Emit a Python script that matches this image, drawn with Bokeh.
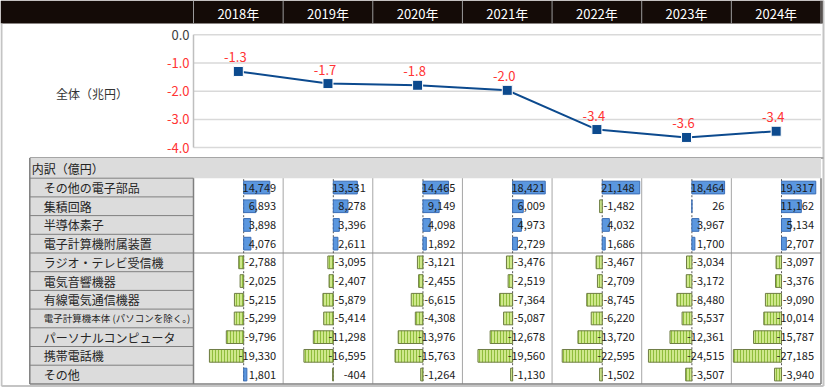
from bokeh.plotting import figure
from bokeh.models import Range1d, ColumnDataSource
from bokeh.core.properties import value
from bokeh.embed import file_html
from bokeh.resources import INLINE

# ---------------- data ----------------
years = ["2018年", "2019年", "2020年", "2021年", "2022年", "2023年", "2024年"]
totals = [-1.30, -1.73, -1.79, -1.97, -3.36, -3.64, -3.42]   # 兆円
total_ticks = [0.0, -1.0, -2.0, -3.0, -4.0]
total_tick_labels = ["0.0", "-1.0", "-2.0", "-3.0", "-4.0"]
total_label = "全体（兆円）"
table_title = "内訳（億円）"
items = ["その他の電子部品", "集積回路", "半導体素子", "電子計算機附属装置",
         "ラジオ・テレビ受信機", "電気音響機器", "有線電気通信機器",
         "電子計算機本体 (パソコンを除く。)", "パーソナルコンピュータ", "携帯電話機", "その他"]
v2018 = [14749, 6893, 3898, 4076, -2788, -2025, -5215, -5299, -9796, -19330, 1801]
v2019 = [13531, 8278, 3396, 2611, -3095, -2407, -5879, -5414, -11298, -16595, -404]
v2020 = [14465, 9149, 4098, 1892, -3121, -2455, -6615, -4308, -13976, -15763, -1264]
v2021 = [18421, 6009, 4973, 2729, -3476, -2519, -7364, -5087, -12678, -19560, -1130]
v2022 = [21148, -1482, 4032, 1686, -3467, -2709, -8745, -6220, -13720, -22595, -1502]
v2023 = [18464, 26, 3967, 1700, -3034, -3172, -8480, -5537, -12361, -24515, -3507]
v2024 = [19317, 11162, 5134, 2707, -3097, -3376, -9090, -10014, -15787, -27185, -3940]
series = [v2018, v2019, v2020, v2021, v2022, v2023, v2024]

# ---------------- layout constants (px) ----------------
FW, FH = 825, 387
COL0 = 193.0          # left edge of first year column
NCOL = len(years)
COLEND = 820.5
COLW = (COLEND - COL0) / NCOL
HEAD_H = 23.0
CHART_TOP = 34.3      # px of value 0.0
PPU = 28.2            # px per 1 兆円
TAB_TOP = 157.5
ROW0 = 177.7
ROWH = 18.7
NROW = len(items)
TAB_BOT = ROW0 + NROW * ROWH
LAB_L = 29.3
FRAME_R = 823.0
FRAME_B = 385.5
PAD = 2.0
FONT = value("Noto Sans CJK JP")

allv = [v for s in series for v in s]
vmin, vmax = min(allv), max(allv)
spx = (COLW - 2 * PAD) / (vmax - vmin)      # px per 億円
colw_val = COLW / spx
zero_val = PAD / spx - vmin

p = figure(width=FW, height=FH, x_range=Range1d(0, FW), y_range=Range1d(FH, 0),
           output_backend="svg", toolbar_location=None, min_border=0)
p.axis.visible = False
p.grid.visible = False
p.outline_line_color = None
p.background_fill_color = "white"
p.border_fill_color = "white"

p.extra_x_ranges = {
    "yr": Range1d(-COL0 / COLW - 0.5, (FW - COL0) / COLW - 0.5),
    "val": Range1d(-COL0 / spx, (FW - COL0) / spx),
}
p.extra_y_ranges = {
    "tot": Range1d(-(FH - CHART_TOP) / PPU, CHART_TOP / PPU),
    "row": Range1d((FH - ROW0) / ROWH - 0.5, -ROW0 / ROWH - 0.5),
}

# ---------------- header ----------------
p.quad(left=[0], right=[FRAME_R], top=[0], bottom=[HEAD_H],
       fill_color="#140b07", line_color=None)
hx = [COL0 + COLW * i for i in range(NCOL + 1)]
p.segment(x0=hx, x1=hx, y0=[0] * len(hx), y1=[HEAD_H] * len(hx), line_color="#9a9a9a", line_width=1)
p.text(x=list(range(NCOL)), y=[HEAD_H / 2 + 1] * NCOL, text=years, x_range_name="yr",
       text_color="white", text_font=FONT, text_font_size="13px",
       text_align="center", text_baseline="middle")

# ---------------- outer frame ----------------
p.segment(x0=[1, 1, FRAME_R], x1=[1, FRAME_R, FRAME_R], y0=[HEAD_H, FRAME_B, 0],
          y1=[FRAME_B, FRAME_B, FRAME_B], line_color="#c4c4c4", line_width=2)

# ---------------- line chart ----------------
p.segment(x0=[COL0] * len(total_ticks), x1=[COLEND] * len(total_ticks),
          y0=total_ticks, y1=total_ticks, y_range_name="tot",
          line_color="#d9d9d9", line_width=1.5)
p.segment(x0=[COL0], x1=[COL0], y0=[max(total_ticks)], y1=[min(total_ticks)],
          y_range_name="tot", line_color="#bfbfbf", line_width=1.5)
tick_colors = ["#404040" if t == 0 else "#ff3333" for t in total_ticks]
p.text(x=[COL0 - 4] * len(total_ticks), y=total_ticks, text=total_tick_labels,
       y_range_name="tot", text_color=tick_colors, text_font=FONT, text_font_size="13px",
       text_align="right", text_baseline="middle")
p.text(x=[91.5], y=[93], text=[total_label], text_color="#333333", text_font=FONT,
       text_font_size="12px", text_align="center", text_baseline="middle")

xi = list(range(NCOL))
p.line(x=xi, y=totals, x_range_name="yr", y_range_name="tot", line_color="#0c4a8e", line_width=2)
p.scatter(x=xi, y=totals, x_range_name="yr", y_range_name="tot", marker="square", size=10,
          fill_color="#0c4a8e", line_color="white", line_width=1)
dy = 14.0 / PPU
p.text(x=xi, y=[t + dy for t in totals], text=[f"{t:.1f}" for t in totals],
       x_range_name="yr", y_range_name="tot", x_offset=-3, text_color="#ff3333", text_font=FONT,
       text_font_size="13px", text_align="center", text_baseline="middle")

# ---------------- table ----------------
p.segment(x0=[LAB_L], x1=[FRAME_R], y0=[TAB_TOP], y1=[TAB_TOP], line_color="#a6a6a6", line_width=2)
p.quad(left=[LAB_L], right=[COLEND], top=[TAB_TOP], bottom=[ROW0], fill_color="#dcdcdc", line_color=None)
p.text(x=[LAB_L + 2], y=[(TAB_TOP + ROW0) / 2 + 0.5], text=[table_title], text_color="#222222",
       text_font=FONT, text_font_size="12px", text_align="left", text_baseline="middle")
p.quad(left=[LAB_L], right=[COL0], top=[ROW0], bottom=[TAB_BOT], fill_color="#dcdcdc", line_color=None)
rb = [ROW0 + ROWH * k for k in range(NROW)]
p.segment(x0=[LAB_L] * NROW, x1=[COL0] * NROW, y0=rb, y1=rb, line_color="#7f7f7f", line_width=1)
cx = [COL0 + COLW * i for i in range(1, NCOL)]
p.segment(x0=cx, x1=cx, y0=[ROW0] * len(cx), y1=[TAB_BOT] * len(cx), line_color="#a6a6a6", line_width=1)
gy = ROW0 + ROWH * 4
p.segment(x0=[COL0], x1=[COLEND], y0=[gy], y1=[gy], line_color="#8c8c8c", line_width=1.2)
zx = [i * colw_val + zero_val for i in range(NCOL)]
p.segment(x0=zx, x1=zx, y0=[ROW0 + 1] * NCOL, y1=[TAB_BOT - 1] * NCOL, x_range_name="val",
          line_color="#595959", line_width=1, line_dash="2 2")

pos = dict(l=[], r=[], y=[])
neg = dict(l=[], r=[], y=[])
for i, s in enumerate(series):
    base = i * colw_val + zero_val
    for k, v in enumerate(s):
        d = pos if v >= 0 else neg
        d["l"].append(base + min(v, 0))
        d["r"].append(base + max(v, 0))
        d["y"].append(k)
p.hbar(y="y", left="l", right="r", height=0.68, source=ColumnDataSource(pos),
       x_range_name="val", y_range_name="row",
       fill_color="#5b97df", line_color="#3a6db5", line_width=1)
p.hbar(y="y", left="l", right="r", height=0.68, source=ColumnDataSource(neg),
       x_range_name="val", y_range_name="row",
       fill_color="#cfe88c", hatch_pattern="|", hatch_color="#8fbd3c", hatch_scale=3,
       hatch_weight=1, line_color="#6f7d45", line_width=1)

tx, ty, tt = [], [], []
for i, s in enumerate(series):
    for k, v in enumerate(s):
        tx.append(i + 0.5)
        ty.append(k)
        tt.append(f"{v:,}")
p.text(x=tx, y=ty, text=tt, x_range_name="yr", y_range_name="row", x_offset=-7,
       text_color="#1a1a1a", text_font=FONT, text_font_size="11px",
       text_align="right", text_baseline="middle")

fs = ["9.5px" if len(t) > 12 else "12px" for t in items]
lsrc = ColumnDataSource(dict(x=[LAB_L + 14] * NROW, y=list(range(NROW)), t=items, fs=fs))
p.text(x="x", y="y", text="t", source=lsrc, y_range_name="row", text_color="#262626",
       text_font=FONT, text_font_size="fs", text_align="left", text_baseline="middle")

p.segment(x0=[LAB_L, LAB_L, COL0, COLEND], x1=[LAB_L, COLEND, COL0, COLEND],
          y0=[TAB_TOP, TAB_BOT, ROW0, ROW0], y1=[TAB_BOT, TAB_BOT, TAB_BOT, TAB_BOT],
          line_color="#7f7f7f", line_width=1.5)

open("out.html", "w").write(file_html(p, INLINE))
